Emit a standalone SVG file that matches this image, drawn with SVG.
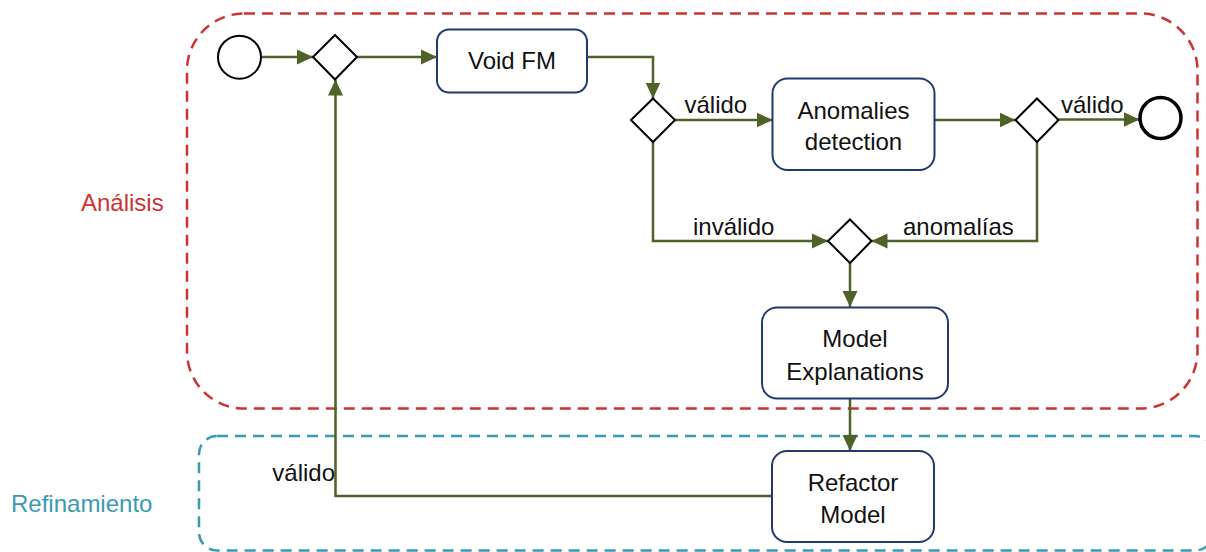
<svg xmlns="http://www.w3.org/2000/svg" width="1206" height="552" viewBox="0 0 1206 552">
  <style>
    .lane-a { fill: none; stroke: #cc3333; stroke-width: 2.5; stroke-dasharray: 11 7; }
    .lane-r { fill: none; stroke: #3a9ab2; stroke-width: 2.5; stroke-dasharray: 11 7; }
    .lane-a-label { fill: #cc3333; }
    .lane-r-label { fill: #3a9ab2; }
    text { font-family: "Liberation Sans", Arial, sans-serif; font-size: 24px; fill: #111111; }
    .task { fill: #ffffff; stroke: #1f3a6e; stroke-width: 2; }
    .gate { fill: #ffffff; stroke: #000000; stroke-width: 2; }
    .event { fill: #ffffff; stroke: #000000; stroke-width: 2; }
    .event-end { fill: #ffffff; stroke: #000000; stroke-width: 3.5; }
    .flow { fill: none; stroke: #4f6228; stroke-width: 2.5; }
    .center { text-anchor: middle; }
  </style>
  <defs>
    <marker id="arrow" markerUnits="userSpaceOnUse" markerWidth="16" markerHeight="16" viewBox="0 0 16 16" refX="16" refY="8" orient="auto">
      <path d="M0,0.5 L16,8 L0,15.5 Z" fill="#4f6228"/>
    </marker>
  </defs>

  <!-- swimlane regions -->
  <g id="lane-analisis">
    <rect class="lane-a" x="187" y="13.5" width="1010.5" height="395" rx="57" ry="57"/>
    <text class="lane-a-label" x="81" y="211">Análisis</text>
  </g>
  <g id="lane-refinamiento">
    <rect class="lane-r" x="199" y="436" width="1014" height="114.5" rx="18" ry="18"/>
    <text class="lane-r-label" x="11" y="511.5">Refinamiento</text>
  </g>

  <!-- connectors -->
  <g id="connectors">
    <path class="flow" d="M261,57 L313,57" marker-end="url(#arrow)"/>
    <path class="flow" d="M357,57 L437,57" marker-end="url(#arrow)"/>
    <path class="flow" d="M587,57 L653,57 L653,98.5" marker-end="url(#arrow)"/>
    <path class="flow" d="M675,120 L772.5,120" marker-end="url(#arrow)"/>
    <path class="flow" d="M934.5,120 L1015.5,120" marker-end="url(#arrow)"/>
    <path class="flow" d="M1058.5,119.5 L1139.5,119.5" marker-end="url(#arrow)"/>
    <path class="flow" d="M653,142 L653,241 L828,241" marker-end="url(#arrow)"/>
    <path class="flow" d="M1037,142 L1037,241 L871.5,241" marker-end="url(#arrow)"/>
    <path class="flow" d="M850,263 L850,307" marker-end="url(#arrow)"/>
    <path class="flow" d="M850,399 L850,451" marker-end="url(#arrow)"/>
    <path class="flow" d="M772,496 L335.5,496 L335.5,79.5" marker-end="url(#arrow)"/>
    <text x="684.5" y="113">válido</text>
    <text x="1061" y="113">válido</text>
    <text x="693" y="235">inválido</text>
    <text x="903" y="235">anomalías</text>
    <text x="335" y="480.5" text-anchor="end">válido</text>
  </g>

  <!-- events -->
  <g id="start">
    <circle class="event" cx="239.5" cy="57.2" r="21.5"/>
  </g>
  <g id="end">
    <circle class="event-end" cx="1160.5" cy="118" r="20.5"/>
  </g>

  <!-- gateways -->
  <g id="gateway-merge">
    <polygon class="gate" points="335,35 357,57 335,79.5 313,57"/>
  </g>
  <g id="gateway-valid">
    <polygon class="gate" points="653,98.5 675,120 653,142 631,120"/>
  </g>
  <g id="gateway-anomalies">
    <polygon class="gate" points="1037,98.5 1058.5,120 1037,142 1015.5,120"/>
  </g>
  <g id="gateway-explain">
    <polygon class="gate" points="850,219.5 871.5,241 850,263 828,241"/>
  </g>

  <!-- tasks -->
  <g id="task-void-fm">
    <rect class="task" x="437" y="29.5" width="150" height="63" rx="12" ry="12"/>
    <text class="center" x="512" y="68.5">Void FM</text>
  </g>
  <g id="task-anomalies">
    <rect class="task" x="772.5" y="78.5" width="162" height="91.5" rx="15" ry="15"/>
    <text class="center" x="853.5" y="118.5">Anomalies</text>
    <text class="center" x="853.5" y="150">detection</text>
  </g>
  <g id="task-explanations">
    <rect class="task" x="762" y="307.5" width="186" height="91" rx="15" ry="15"/>
    <text class="center" x="855" y="347">Model</text>
    <text class="center" x="855" y="380">Explanations</text>
  </g>
  <g id="task-refactor">
    <rect class="task" x="772" y="451" width="162" height="91" rx="15" ry="15"/>
    <text class="center" x="853" y="491">Refactor</text>
    <text class="center" x="853" y="523">Model</text>
  </g>
</svg>
